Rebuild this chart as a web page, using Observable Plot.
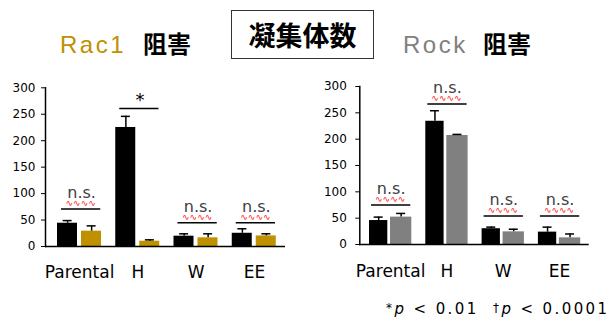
<!DOCTYPE html>
<html><head><meta charset="utf-8">
<script src="https://cdn.jsdelivr.net/npm/d3@7"></script>
<script src="https://cdn.jsdelivr.net/npm/@observablehq/plot@0.6"></script>
<style>
body{margin:0;background:#fff;}
#root{position:relative;width:612px;height:322px;overflow:hidden;background:#fff;font-family:"DejaVu Sans",sans-serif;}
.t{position:absolute;white-space:nowrap;line-height:1;}
.lat{font-family:"Liberation Sans",Arial,sans-serif;font-size:24px;letter-spacing:2.5px;}
.cjk{font-family:"Noto Sans CJK JP",sans-serif;font-weight:700;font-size:24px;color:#000;}
#box{position:absolute;left:231px;top:10px;width:141px;height:47px;border:1.5px solid #333;display:flex;align-items:center;justify-content:center;font-family:"Noto Sans CJK JP",sans-serif;font-weight:700;font-size:27px;color:#000;}
#foot{position:absolute;left:386px;top:302px;font-family:"DejaVu Sans",sans-serif;font-size:15px;letter-spacing:2.4px;color:#000;white-space:nowrap;line-height:1;}
#foot .sym{font-size:12px;vertical-align:2px;}
.plot{position:absolute;}
</style></head><body><div id="root">
<span class="t lat" style="left:60px;top:33px;color:#BF9000;">Rac1</span>
<span class="t cjk" style="left:143px;top:31px;">阻害</span>
<div id="box">凝集体数</div>
<span class="t lat" style="left:403px;top:33px;color:#808080;">Rock</span>
<span class="t cjk" style="left:483px;top:31px;">阻害</span>
<div id="left" class="plot" style="left:0px;top:80px;"></div>
<div id="right" class="plot" style="left:306px;top:70px;"></div>
<div id="foot"><span class="sym">*</span><i>p</i> &lt; 0.01&nbsp; <span class="sym">†</span><i>p</i> &lt; 0.0001</div>
</div>
<script>
const categories = ["Parental", "H", "W", "EE"];
const yTicks = [0, 50, 100, 150, 200, 250, 300];

const rac1Control = [44, 225, 19.5, 25];
const rac1ControlErr = [5, 21, 4.5, 8.5];
const rac1Inhibited = [29, 10, 16.4, 20];
const rac1InhibitedErr = [10, 2.6, 7.6, 4];
const rac1SigLabel = ["n.s.", "*", "n.s.", "n.s."];
const rac1SigLevel = [71, 261, 45, 45];

const rockControl = [45.5, 234, 30, 23.5];
const rockControlErr = [6.5, 20, 3, 9.5];
const rockInhibited = [52, 207, 24, 12.6];
const rockInhibitedErr = [7, 2, 5, 7.4];
const rockSigLabel = ["n.s.", "n.s.", "n.s.", "n.s."];
const rockSigLevel = [75, 267, 54, 54];

function chart(o) {
  const rows = categories.map((c, i) => ({
    cat: c, a: o.ctrl[i], ae: o.ctrlErr[i], b: o.inh[i], be: o.inhErr[i],
    sig: o.sig[i], lvl: o.lvl[i]
  }));
  const ns = rows.filter(d => d.sig === "n.s.");
  const star = rows.filter(d => d.sig !== "n.s.");
  const bw = (o.range[1] - o.range[0]) / categories.length;
  const s = o.st;
  const capW = 9;
  return Plot.plot({
    width: o.width, height: o.height,
    marginLeft: o.ml, marginRight: o.mr, marginTop: o.mt, marginBottom: o.mb,
    style: {fontFamily: "DejaVu Sans", color: "#000", background: "transparent", fontSize: "12px"},
    x: {domain: categories, range: o.range, padding: 0, round: false, axis: null},
    y: {domain: [0, 300], axis: null},
    marks: [
      Plot.barY(rows, {x: "cat", y: "a", fill: "#000", insetLeft: s.aL, insetRight: bw - s.aR}),
      Plot.barY(rows, {x: "cat", y: "b", fill: o.color, insetLeft: s.bL, insetRight: bw - s.bR}),
      Plot.ruleX(rows, {x: "cat", y1: "a", y2: d => d.a + d.ae, dx: s.aDx, stroke: "#000", strokeWidth: 1.5}),
      Plot.ruleX(rows, {x: "cat", y1: "b", y2: d => d.b + d.be, dx: s.bDx, stroke: "#000", strokeWidth: 1.5}),
      Plot.tickY(rows, {x: "cat", y: d => d.a + d.ae, insetLeft: bw / 2 + s.aDx - capW / 2, insetRight: bw / 2 - s.aDx - capW / 2, stroke: "#000", strokeWidth: 1.5}),
      Plot.tickY(rows, {x: "cat", y: d => d.b + d.be, insetLeft: bw / 2 + s.bDx - capW / 2, insetRight: bw / 2 - s.bDx - capW / 2, stroke: "#000", strokeWidth: 1.5}),
      Plot.tickY(rows, {x: "cat", y: "lvl", insetLeft: s.sL, insetRight: s.sR, stroke: "#000", strokeWidth: 1.5}),
      Plot.text(ns, {x: "cat", y: "lvl", text: "sig", dx: s.sDx, dy: -11, lineAnchor: "bottom", fontSize: 16, fill: "#404040"}),
      Plot.text(ns, {x: "cat", y: "lvl", text: () => "∿∿∿∿", dx: s.sDx - 1, dy: -6, lineAnchor: "middle", fontSize: 9, fill: "#ff2020"}),
      Plot.text(star, {x: "cat", y: "lvl", text: "sig", dx: s.sDx, dy: -2, lineAnchor: "bottom", fontSize: 18, fill: "#000"}),
      Plot.ruleY([0], {stroke: "#000", strokeWidth: 1.5}),
      Plot.frame({anchor: "left", stroke: "#000", strokeWidth: 1.5}),
      Plot.axisY({ticks: yTicks, tickSize: 4, tickPadding: o.tp, label: null, fontSize: 12}),
      Plot.axisX({tickSize: 0, tickPadding: o.xp, label: null, fontSize: 17})
    ]
  });
}

document.getElementById("left").append(chart({
  ctrl: rac1Control, ctrlErr: rac1ControlErr, inh: rac1Inhibited, inhErr: rac1InhibitedErr,
  sig: rac1SigLabel, lvl: rac1SigLevel, color: "#BF9000",
  width: 300, height: 212, ml: 45, mr: 15, mt: 7.3, mb: 46, range: [50, 283], tp: 6, xp: 19,
  st: {aL: 7, aR: 27, bL: 31, bR: 51, aDx: -12, bDx: 12, sL: 11, sR: 8, sDx: 2}
}));

document.getElementById("right").append(chart({
  ctrl: rockControl, ctrlErr: rockControlErr, inh: rockInhibited, inhErr: rockInhibitedErr,
  sig: rockSigLabel, lvl: rockSigLevel, color: "#808080",
  width: 300, height: 222, ml: 53.3, mr: 17.3, mt: 16, mb: 48, range: [56, 281.2], tp: 9, xp: 20,
  st: {aL: 7, aR: 25.3, bL: 28, bR: 49.3, aDx: -12, bDx: 10.5, sL: 9, sR: 8, sDx: 0.5}
}));
</script>
</body></html>
